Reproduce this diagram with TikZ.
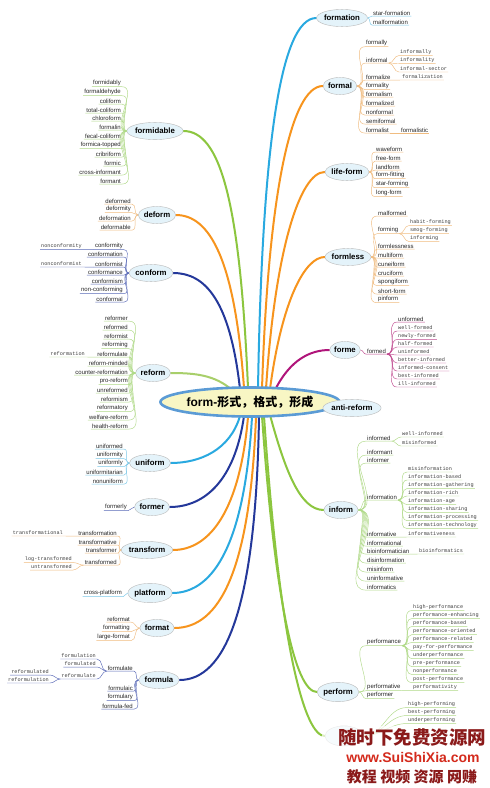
\documentclass[tikz,border=0pt]{standalone}
\usepackage{fontspec}
\setmainfont{Liberation Sans}
\newfontfamily\lf{Liberation Sans}
\newfontfamily\mf{Liberation Mono}
\newfontfamily\cjk{Noto Sans CJK SC}
\usetikzlibrary{shapes.geometric,backgrounds}
\pgfdeclarelayer{bottom}
\pgfdeclarelayer{background}
\pgfsetlayers{bottom,background,main}
\definecolor{cyanM}{HTML}{29A9E0}
\definecolor{cyanL}{HTML}{7CC8E8}
\definecolor{orangeM}{HTML}{F7941D}
\definecolor{orangeL}{HTML}{F0BC80}
\definecolor{magM}{HTML}{B0157A}
\definecolor{magL}{HTML}{C04A90}
\definecolor{greenM}{HTML}{8CC63F}
\definecolor{greenL}{HTML}{B0DA88}
\definecolor{lgreenM}{HTML}{A8CF6A}
\definecolor{blueM}{HTML}{24389A}
\definecolor{blueL}{HTML}{5A6AB8}
\definecolor{nodefill}{HTML}{E4F3FA}
\definecolor{centerfill}{HTML}{F8F6C4}
\definecolor{centerdraw}{HTML}{5B9BD5}
\definecolor{wmred}{HTML}{8B1A1A}
\definecolor{wmred2}{HTML}{D42A1C}
\tikzset{
  mainnode/.style={ellipse, draw=gray!55, fill=nodefill, text=black,
    font=\lf\bfseries\fontsize{7.8}{9}\selectfont, inner xsep=0pt, inner ysep=3.2pt},
  centernode/.style={ellipse, draw=centerdraw, line width=2.6pt, fill=centerfill,
    minimum width=146pt, minimum height=29pt, inner sep=0pt},
  lr/.style={anchor=west, font=\lf\fontsize{6}{7}\selectfont, text=black!85, inner xsep=1pt, inner ysep=0.7pt},
  ll/.style={anchor=east, font=\lf\fontsize{6}{7}\selectfont, text=black!85, inner xsep=1pt, inner ysep=0.7pt},
  mr/.style={anchor=west, font=\mf\fontsize{5.2}{6}\selectfont, text=black!75, inner xsep=1pt, inner ysep=0.9pt},
  ml/.style={anchor=east, font=\mf\fontsize{5.2}{6}\selectfont, text=black!75, inner xsep=1pt, inner ysep=0.9pt},
  cn/.style={line width=0.45pt},
  mline/.style={line width=2pt, line cap=round},
}
\newcommand\RLeaves[6]{%
  \foreach \t/\yy [count=\i] in {#6}{%
    \node[#5] (#3\i) at (#2,\yy) {\t};
    \draw[cn,#4] (#1) to[out=0,in=180] (#3\i.south west) -- (#3\i.south east);
  }}
\newcommand\LLeaves[6]{%
  \foreach \t/\yy [count=\i] in {#6}{%
    \node[#5] (#3\i) at (#2,\yy) {\t};
    \draw[cn,#4] (#1) to[out=180,in=0] (#3\i.south east) -- (#3\i.south west);
  }}
\begin{document}
\begin{tikzpicture}[x=1pt,y=-1pt]
\begin{pgfonlayer}{bottom}
\fill[white] (0,0) rectangle (490,788);
\end{pgfonlayer}
\useasboundingbox (0,0) rectangle (490,788);

% ---------- center and main nodes ----------
\node[centernode] (center) at (250,402) {\fontsize{12}{14}\selectfont\bfseries form-{\cjk 形式，格式，形成}};

\node[mainnode] (formation) at (342,18) {formation};
\node[mainnode] (formal) at (340,86) {formal};
\node[mainnode] (lifeform) at (347,172) {life-form};
\node[mainnode] (formless) at (348,257) {formless};
\node[mainnode] (forme) at (345,350) {forme};
\node[mainnode] (antireform) at (352,408) {anti-reform};
\node[mainnode] (inform) at (341,510) {inform};
\node[mainnode] (perform) at (338,692) {perform};
\node[ellipse, draw=gray!55, fill=nodefill, minimum width=38pt, minimum height=20pt] (hidden) at (344,736) {};

\node[mainnode] (formidable) at (155,131) {formidable};
\node[mainnode] (deform) at (157,215) {deform};
\node[mainnode] (conform) at (151,273) {conform};
\node[mainnode] (reform) at (153,373) {reform};
\node[mainnode] (uniform) at (150,463) {uniform};
\node[mainnode] (former) at (152,507) {former};
\node[mainnode] (transform) at (147,550) {transform};
\node[mainnode] (platform) at (150,593) {platform};
\node[mainnode] (format) at (157,628) {format};
\node[mainnode] (formula) at (159,680) {formula};

% ---------- main connectors ----------
\begin{scope}[on background layer]
\draw[mline,cyanM] (258,389) .. controls (262,150) and (280,18) .. (formation.west);
\draw[mline,orangeM] (262,389) .. controls (268,200) and (290,86) .. (formal.west);
\draw[mline,orangeM] (266,389) .. controls (275,250) and (300,172) .. (lifeform.west);
\draw[mline,orangeM] (270,389) .. controls (282,300) and (305,257) .. (formless.west);
\draw[mline,magM] (275,390) .. controls (290,360) and (310,350) .. (forme.west);
\draw[line width=1.2pt,orangeM] (center.east) -- (antireform.west);
\draw[mline,greenM] (270,415) .. controls (285,470) and (300,510) .. (inform.west);
\draw[mline,greenM] (262,416) .. controls (275,600) and (295,692) .. (perform.west);
\draw[mline,greenM] (264,416) .. controls (280,650) and (305,736) .. (hidden.west);

\draw[mline,greenM] (248,388) .. controls (240,200) and (220,131) .. (formidable.east);
\draw[mline,orangeM] (244,388) .. controls (235,260) and (210,215) .. (deform.east);
\draw[mline,blueM] (240,389) .. controls (230,300) and (205,273) .. (conform.east);
\draw[mline,lgreenM] (232,390) .. controls (215,375) and (195,373) .. (reform.east);

\draw[mline,cyanM] (240,416) .. controls (230,450) and (200,463) .. (uniform.east);
\draw[mline,blueM] (244,416) .. controls (235,480) and (205,507) .. (former.east);
\draw[mline,orangeM] (248,417) .. controls (240,510) and (210,550) .. (transform.east);
\draw[mline,cyanM] (252,417) .. controls (245,540) and (215,593) .. (platform.east);
\draw[mline,orangeM] (256,417) .. controls (250,570) and (220,628) .. (format.east);
\draw[mline,blueM] (259,417) .. controls (256,610) and (225,680) .. (formula.east);
\end{scope}

% ---------- right side leaves ----------
\RLeaves{formation.east}{372}{fa}{cyanL}{lr}{star-formation/13,malformation/22}

\RLeaves{formal.east}{365}{fb}{orangeL}{lr}{formally/43,informal/60,formalize/77,formality/86,formalism/94,formalized/103,nonformal/112,semiformal/121,formalist/130}
\RLeaves{fb2.south east}{399}{fc}{orangeL}{mr}{informally/52,informality/60,informal-sector/69}
\RLeaves{fb3.south east}{401}{fd}{orangeL}{mr}{formalization/77}
\RLeaves{fb9.south east}{400}{fe}{orangeL}{lr}{formalistic/130}

\RLeaves{lifeform.east}{375}{ff}{orangeL}{lr}{waveform/149,free-form/158,landform/167,form-fitting/175,star-forming/184,long-form/193}

\RLeaves{formless.east}{377}{fg}{orangeL}{lr}{malformed/213,forming/230,formlessness/246,multiform/255,cuneiform/264,cruciform/273,spongiform/282,short-form/291,pinform/299}
\RLeaves{fg2.south east}{409}{fh}{orangeL}{mr}{habit-forming/222,smog-forming/230,informing/238}

\RLeaves{forme.east}{366}{fi}{magL}{lr}{formed/351}
\RLeaves{fi1.south east}{397}{fj}{magL}{lr}{unformed/319}
\RLeaves{fi1.south east}{397}{fk}{magL}{mr}{well-formed/328,newly-formed/336,half-formed/344,uninformed/352,better-informed/360,informed-consent/368,best-informed/376,ill-informed/384}

\RLeaves{inform.east}{366}{fl}{greenL}{lr}{informed/438,informant/452,informer/460,information/497,informative/534,informational/543,bioinformatician/551,disinformation/560,misinform/569,uninformative/578,informatics/587}
\RLeaves{fl1.south east}{401}{fm}{greenL}{mr}{well-informed/434,misinformed/443}
\RLeaves{fl4.south east}{407}{fn}{greenL}{mr}{misinformation/469,information-based/477,information-gathering/485,information-rich/493,information-age/501,information-sharing/509,information-processing/517,information-technology/525}
\RLeaves{fl5.south east}{407}{fo}{greenL}{mr}{informativeness/534}
\RLeaves{fl7.south east}{418}{fp}{greenL}{mr}{bioinformatics/551}

\RLeaves{perform.east}{366}{fq}{greenL}{lr}{performance/642,performative/687,performer/695}
\RLeaves{fq1.south east}{412}{fr}{greenL}{mr}{high-performance/607,performance-enhancing/615,performance-based/623,performance-oriented/631,performance-related/639,pay-for-performance/647,underperformance/655,pre-performance/663,nonperformance/671,post-performance/679}
\RLeaves{fq2.south east}{412}{fs}{greenL}{mr}{performativity/687}
\RLeaves{hidden.east}{407}{ft}{greenL}{mr}{high-performing/704,best-performing/712,underperforming/720}

% ---------- left side leaves ----------
\LLeaves{formidable.west}{122}{ga}{greenL}{ll}{formidably/83,formaldehyde/92,coliform/101,total-coliform/110,chloroform/118,formalin/127,fecal-coliform/136,formica-topped/145,cribriform/154,formic/163,cross-informant/172,formant/181}

\LLeaves{deform.west}{132}{gb}{orangeL}{ll}{deformed/201,deformity/209,deformation/218,deformable/227}

\LLeaves{conform.west}{124}{gc}{blueL}{ll}{conformity/246,conformation/254,conformist/264,conformance/272,conformism/281,non-conforming/290,conformal/299}
\LLeaves{gc1.south west}{83}{gd}{blueL}{ml}{nonconformity/246}
\LLeaves{gc3.south west}{83}{ge}{blueL}{ml}{nonconformist/264}

\LLeaves{reform.west}{129}{gf}{greenL}{ll}{reformer/318,reformed/327,reformist/336,reforming/345,reformulate/354,reform-minded/363,counter-reformation/372,pro-reform/381,unreformed/390,reformism/399,reformatory/408,welfare-reform/417,health-reform/426}
\LLeaves{gf5.south west}{86}{gg}{greenL}{ml}{reformation/354}

\LLeaves{uniform.west}{124}{gh}{cyanL}{ll}{uniformed/446,uniformity/455,uniformly/463,uniformitarian/472,nonuniform/481}

\LLeaves{former.west}{128}{gi}{blueL}{ll}{formerly/507}

\LLeaves{transform.west}{118}{gj}{orangeL}{ll}{transformation/533,transformative/542,transformer/550,transformed/562}
\LLeaves{gj1.south west}{64}{gk}{orangeL}{ml}{transformational/533}
\LLeaves{gj4.south west}{73}{gl}{orangeL}{ml}{log-transformed/559,untransformed/567}

\LLeaves{platform.west}{123}{gm}{cyanL}{ll}{cross-platform/593}

\LLeaves{format.west}{131}{gn}{orangeL}{ll}{reformat/619,formatting/628,large-format/637}

\LLeaves{formula.west}{134}{go}{blueL}{ll}{formulate/668,formulaic/688,formulary/697,formula-fed/706}
\LLeaves{go1.south west}{97}{gp}{blueL}{ml}{formulation/656,formulated/664,reformulate/676}
\LLeaves{gp3.south west}{50}{gq}{blueL}{ml}{reformulated/672,reformulation/680}

% ---------- watermark ----------
\fill[white,opacity=0.7] (322,726) rectangle (490,788);
\node[font=\cjk\bfseries\fontsize{18.5}{20}\selectfont, text=wmred, inner sep=0pt] (wm1) at (412,737) {随时下免费资源网};
\node[font=\lf\bfseries\fontsize{14}{15}\selectfont, text=wmred2, inner sep=0pt] (wm2) at (413,757) {www.SuiShiXia.com};
\node[font=\cjk\bfseries\fontsize{15}{16}\selectfont, text=wmred, inner sep=0pt] (wm3) at (412,777) {教程 视频 资源 网赚};
\end{tikzpicture}
\end{document}
